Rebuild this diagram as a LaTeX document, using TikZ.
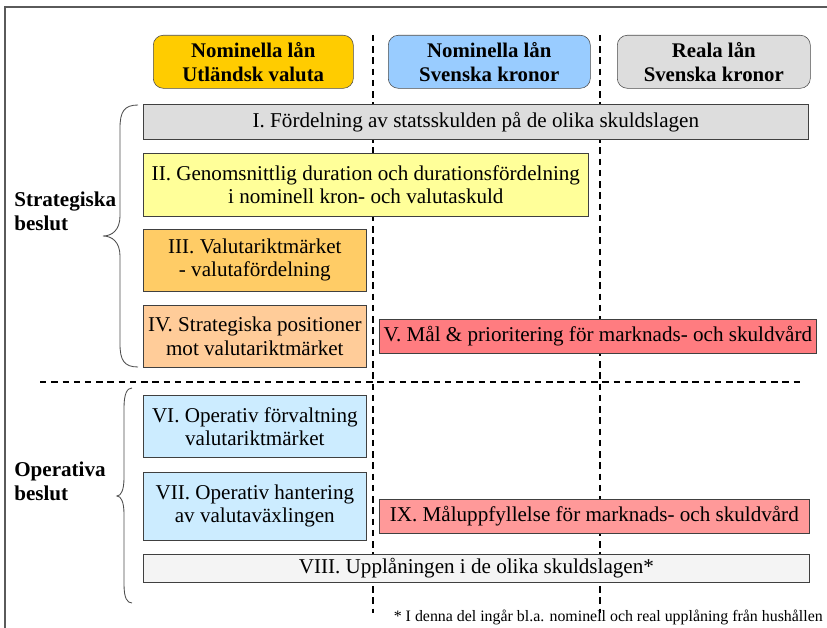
\documentclass[tikz,border=0pt]{standalone}
\usepackage{fontspec}
\setmainfont{Liberation Serif}
\usepackage{tikz}
\usetikzlibrary{positioning}
\definecolor{hdrfx}{HTML}{FFCC00}
\definecolor{hdrsek}{HTML}{99CCFF}
\definecolor{hdrreal}{HTML}{DDDDDD}
\definecolor{cgray}{HTML}{DDDDDD}
\definecolor{cyellow}{HTML}{FFFF99}
\definecolor{corange}{HTML}{FFCC66}
\definecolor{cpeach}{HTML}{FFCC99}
\definecolor{cred}{HTML}{FF7C80}
\definecolor{cblue}{HTML}{CCECFF}
\definecolor{cpink}{HTML}{FF9999}
\definecolor{clight}{HTML}{F4F4F4}
\definecolor{framec}{RGB}{90,90,90}

\begin{document}
\begin{tikzpicture}[x=0.025cm,y=-0.025cm,
    hdr/.style={draw=black!70,rounded corners=2.5mm,anchor=north west,align=center,inner sep=0pt,
      minimum height=1.325cm,font=\fontsize{14.8}{17}\selectfont\bfseries},
    bx/.style={draw=black!75,anchor=north west,align=center,inner sep=0pt,font=\fontsize{15}{16.5}\selectfont},
    sep/.style={dashed,line width=1.2pt,dash pattern=on 4.5pt off 3.5pt},
    brc/.style={black!70,line width=0.6pt},
    lbl/.style={anchor=west,align=left,inner sep=0pt,font=\fontsize{15}{17}\selectfont\bfseries}]
  \useasboundingbox (0,0) rectangle (827,628);
  % frame
  \draw[framec,line width=1pt] (5,628) -- (5,7) -- (827,7);
  % column separators (dashed)
  \foreach \x in {373, 600} {
    \draw[sep] (\x,35) -- (\x,613);
  }
  \draw[sep] (40,382) -- (802,382);
  % column heads
  \node[hdr,fill=hdrfx,minimum width=5cm] (h1) at (153,35) {Nominella lån\\Utländsk valuta};
  \node[hdr,fill=hdrsek,minimum width=5.05cm] (h2) at (388,35) {Nominella lån\\Svenska kronor};
  \node[hdr,fill=hdrreal,minimum width=4.825cm] (h3) at (617,35) {Reala lån\\Svenska kronor};
  % strategic decisions
  \node[bx,fill=cgray,minimum width=16.625cm,minimum height=0.875cm] (s1) at (143,104)
    {I. Fördelning av statsskulden på de olika skuldslagen};
  \node[bx,fill=cyellow,minimum width=11.125cm,minimum height=1.575cm] (s2) at (143,153)
    {II. Genomsnittlig duration och durationsfördelning\\i nominell kron- och valutaskuld};
  \node[bx,fill=corange,minimum width=5.575cm,minimum height=1.55cm] (s3) at (143,229)
    {III. Valutariktmärket\\- valutafördelning};
  \node[bx,fill=cpeach,minimum width=5.575cm,minimum height=1.55cm] (s4) at (143,305)
    {IV. Strategiska positioner\\mot valutariktmärket};
  \node[bx,fill=cred,minimum width=10.925cm,minimum height=0.85cm] (s5) at (379,319)
    {V. Mål \& prioritering för marknads- och skuldvård};
  % operative decisions
  \node[bx,fill=cblue,minimum width=5.575cm,minimum height=1.55cm] (o6) at (143,395)
    {VI. Operativ förvaltning\\valutariktmärket};
  \node[bx,fill=cblue,minimum width=5.575cm,minimum height=1.7cm] (o7) at (143,472)
    {VII. Operativ hantering\\av valutaväxlingen};
  \node[bx,fill=cpink,minimum width=10.75cm,minimum height=0.85cm] (o9) at (379,499)
    {IX. Måluppfyllelse för marknads- och skuldvård};
  \node[bx,fill=clight,minimum width=16.65cm,minimum height=0.7cm] (o8) at (143,554)
    {VIII. Upplåningen i de olika skuldslagen*};
  % braces and group labels
  \draw[brc] (138,105) .. controls (124,105) and (120,112) .. (120,128) -- (120,216)
    .. controls (120,230) and (112,236) .. (103,236) .. controls (112,236) and (120,242) .. (120,256)
    -- (120,344) .. controls (120,360) and (124,367) .. (138,367);
  \draw[brc] (132,388) .. controls (127,388) and (124,394) .. (124,408) -- (124,478)
    .. controls (124,490) and (121,496) .. (117,496) .. controls (121,496) and (124,502) .. (124,514)
    -- (124,584) .. controls (124,598) and (127,603) .. (132,603);
  \node[lbl] (strat) at (14,211) {Strategiska\\beslut};
  \node[lbl] (oper) at (14,481) {Operativa\\beslut};
  % footnote
  \node[anchor=east,inner sep=0pt,font=\fontsize{11.3}{13}\selectfont] (fn) at (823,617)
    {* I denna del ingår bl.a. nominell och real upplåning från hushållen};
\end{tikzpicture}
\end{document}
